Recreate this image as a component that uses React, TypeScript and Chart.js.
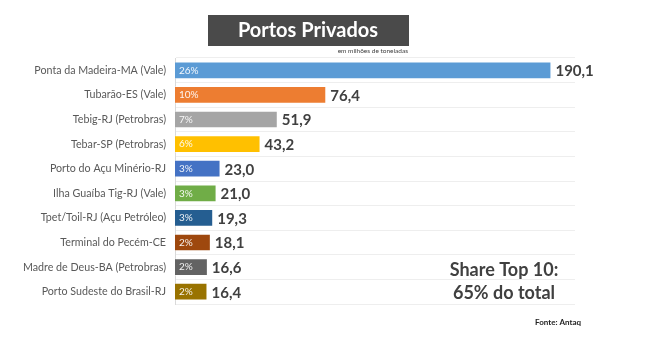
import React, { useEffect, useRef } from "react";
import { Chart, registerables } from "chart.js";

Chart.register(...registerables);

const categories = [
  "Ponta da Madeira-MA (Vale)",
  "Tubarão-ES (Vale)",
  "Tebig-RJ (Petrobras)",
  "Tebar-SP (Petrobras)",
  "Porto do Açu Minério-RJ",
  "Ilha Guaíba Tig-RJ (Vale)",
  "Tpet/Toil-RJ (Açu Petróleo)",
  "Terminal do Pecém-CE",
  "Madre de Deus-BA (Petrobras)",
  "Porto Sudeste do Brasil-RJ",
];
const values = [190.1, 76.4, 51.9, 43.2, 23.0, 21.0, 19.3, 18.1, 16.6, 16.4];
const shares = ["26%", "10%", "7%", "6%", "3%", "3%", "3%", "2%", "2%", "2%"];
const barColors = [
  "#5B9BD5", "#ED7D31", "#A5A5A5", "#FFC000", "#4472C4",
  "#70AD47", "#255E91", "#9E480E", "#636363", "#997300",
];
const titleText = "Portos Privados";
const subtitleText = "em milhões de toneladas";
const noteLines = ["Share Top 10:", "65% do total"];
const sourceText = "Fonte: Antaq";

const FONT = "Lato, 'Open Sans', sans-serif";

const fmt = (v: number) => v.toFixed(1).replace(".", ",");

const overlay = {
  id: "overlay",
  afterDatasetsDraw(chart: any) {
    const ctx = chart.ctx;
    const meta = chart.getDatasetMeta(0);
    ctx.save();
    meta.data.forEach((bar: any, i: number) => {
      const left = Math.min(bar.base, bar.x);
      const right = Math.max(bar.base, bar.x);
      ctx.textBaseline = "middle";
      ctx.textAlign = "left";
      ctx.fillStyle = "rgba(255,255,255,0.92)";
      ctx.font = `10px ${FONT}`;
      ctx.fillText(shares[i], left + 4, bar.y);
      ctx.fillStyle = "#404040";
      ctx.font = `bold 15px ${FONT}`;
      ctx.fillText(fmt(values[i]), right + 4, bar.y + 1);
    });

    // title box
    ctx.fillStyle = "#4a4a4a";
    ctx.fillRect(208, 15, 201, 31);
    ctx.fillStyle = "#ffffff";
    ctx.font = `bold 20px ${FONT}`;
    ctx.textAlign = "center";
    ctx.textBaseline = "middle";
    ctx.fillText(titleText, 308, 31);
    ctx.fillStyle = "#404040";
    ctx.font = `6.5px ${FONT}`;
    ctx.textAlign = "right";
    ctx.fillText(subtitleText, 408, 51);

    // note
    ctx.fillStyle = "#404040";
    ctx.font = `bold 18px ${FONT}`;
    ctx.textAlign = "center";
    ctx.fillText(noteLines[0], 504, 270);
    ctx.fillText(noteLines[1], 504, 293);

    ctx.font = `bold 8px ${FONT}`;
    ctx.fillStyle = "#222222";
    ctx.fillText(sourceText, 558, 322);
    ctx.restore();
  },
};

export default function App() {
  const ref = useRef<HTMLCanvasElement | null>(null);
  useEffect(() => {
    if (!ref.current) return;
    const chart = new Chart(ref.current, {
      type: "bar",
      data: {
        labels: categories,
        datasets: [
          {
            data: values,
            backgroundColor: barColors,
            borderColor: "rgba(255,255,255,0.35)",
            borderWidth: 1,
            barPercentage: 0.72,
            categoryPercentage: 1,
          },
        ],
      },
      options: {
        indexAxis: "y",
        animation: false,
        responsive: false,
        maintainAspectRatio: false,
        layout: { padding: { top: 58, right: 72, bottom: 52, left: 0 } },
        plugins: {
          legend: { display: false },
          tooltip: { enabled: false },
          title: { display: false },
        },
        scales: {
          x: {
            display: false,
            min: 0,
            max: 202,
          },
          y: {
            afterFit: (s: any) => {
              s.width = 175;
            },
            ticks: {
              color: "#595959",
              font: { family: FONT, size: 10.7 },
              padding: 9,
            },
            grid: {
              color: "#eeeeee",
              drawTicks: false,
              tickLength: 0,
            },
            border: { color: "#d9d9d9" },
          },
        },
      },
      plugins: [overlay],
    });
    return () => chart.destroy();
  }, []);
  return (
    <div style={{ position: "fixed", left: 0, top: 0, width: 647, height: 356, background: "#fff" }}>
      <canvas ref={ref} width={647} height={356} style={{ width: 647, height: 356 }} />
    </div>
  );
}
